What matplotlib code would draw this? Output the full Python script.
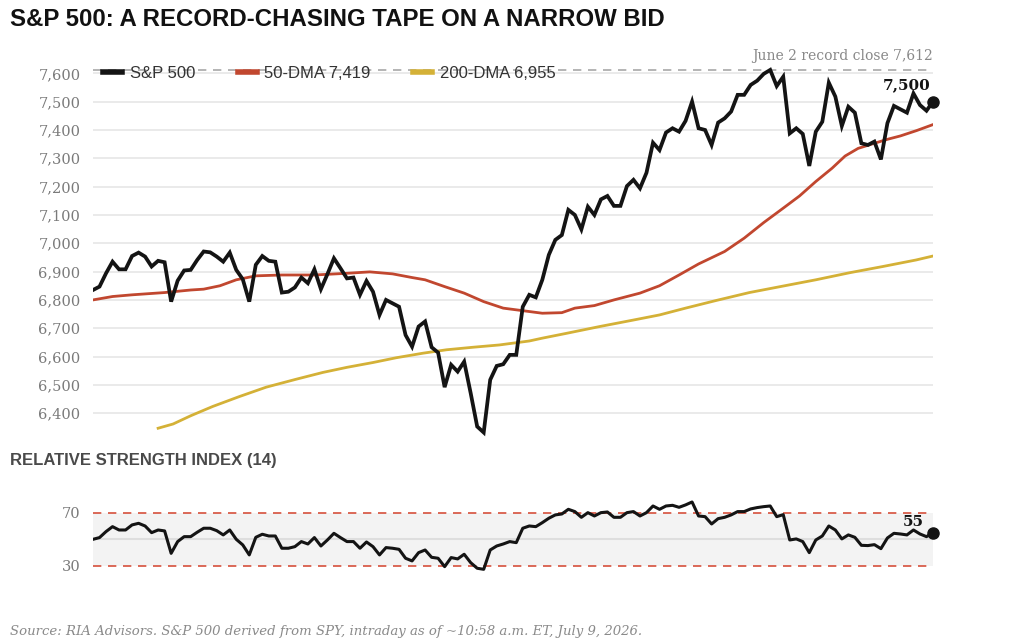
import matplotlib.pyplot as plt
import numpy as np

# S&P 500 closes (daily, oldest -> newest)
sp500 = [6835, 6847, 6894, 6935, 6908, 6908, 6955, 6967, 6953, 6918,
         6938, 6933, 6794, 6868, 6904, 6906, 6941, 6971, 6968, 6953,
         6935, 6967, 6906, 6873, 6794, 6924, 6955, 6938, 6935, 6826,
         6829, 6844, 6879, 6859, 6908, 6838, 6891, 6947, 6912, 6876,
         6879, 6818, 6867, 6829, 6747, 6800, 6788, 6776, 6676, 6635,
         6706, 6724, 6633, 6614, 6492, 6571, 6547, 6582, 6471, 6353,
         6332, 6518, 6567, 6573, 6606, 6606, 6776, 6818, 6809, 6871,
         6959, 7012, 7029, 7118, 7100, 7049, 7129, 7100, 7155, 7167,
         7132, 7132, 7202, 7224, 7194, 7249, 7355, 7329, 7391, 7406,
         7394, 7432, 7500, 7406, 7400, 7347, 7426, 7441, 7465, 7524,
         7524, 7559, 7574, 7598, 7612, 7555, 7588, 7388, 7406, 7386,
         7273, 7394, 7429, 7567, 7518, 7414, 7482, 7461, 7353, 7347,
         7359, 7296, 7424, 7485, 7473, 7461, 7529, 7488, 7468, 7500]

# moving averages, sampled along the curve (day index, value)
ma50_day = [0, 3, 6, 11, 15, 17, 19.5, 22, 25, 29, 34, 39, 42.5, 46, 49, 51, 54, 57, 60, 63,
            67, 69, 72, 74, 77, 80, 84, 87, 90, 93, 97, 100, 103, 106, 108.5, 111, 113.5,
            115.5, 117.5, 120, 122, 124, 126.5, 129]
ma50_val = [6800, 6812, 6818, 6826, 6835, 6838, 6850, 6871, 6885, 6888, 6888, 6894, 6899, 6892,
            6879, 6871, 6847, 6824, 6794, 6771, 6759, 6753, 6755, 6771, 6780, 6800, 6824, 6850,
            6888, 6927, 6971, 7018, 7073, 7124, 7167, 7218, 7265, 7308, 7335, 7353, 7367, 7379,
            7398, 7419]

ma200_day = [10, 12.3, 15, 18.4, 22.5, 26.6, 31.2, 35.3, 39, 43, 46.6, 50.7, 54.3, 58.4, 62.4,
             67, 69, 72.7, 77.8, 83, 87, 91, 95.7, 100.8, 106, 111, 116.2, 121.3, 126.4, 129]
ma200_val = [6347, 6362, 6391, 6424, 6459, 6492, 6520, 6544, 6562, 6579, 6596, 6612, 6624, 6633,
             6641, 6655, 6665, 6682, 6706, 6729, 6747, 6771, 6798, 6826, 6849, 6871, 6896, 6918,
             6941, 6955]

rsi = [50, 51.3, 55.8, 59.5, 57, 57, 60.8, 62, 60, 55,
       57, 56.3, 39.5, 48.3, 52, 52, 55.3, 58.3, 58.3, 56.5,
       53.3, 57, 50, 45.8, 38.3, 51.5, 53.8, 52.5, 52.5, 43.3,
       43.3, 44.5, 48.3, 46.5, 51.3, 45, 49.5, 54.5, 51.3, 48.3,
       48.3, 43.3, 48, 44.5, 38.3, 43.8, 43.3, 42.5, 35.8, 33.8,
       40, 42, 36.5, 35.8, 29.5, 36.3, 35.3, 38.8, 32.5, 28.3,
       27.5, 42, 45, 46.5, 48.3, 47.5, 58.3, 60, 59.5, 62.5,
       65.8, 68.3, 69, 72.5, 70.8, 66.5, 70, 67.5, 70, 70.5,
       66.5, 66.5, 70, 70.8, 67.5, 70, 75, 72.5, 75, 75.5,
       74, 75.8, 78, 67.5, 67, 61.5, 65.5, 66.5, 68.3, 70.8,
       70.8, 72.8, 73.8, 74.5, 75, 67, 68.5, 49.5, 50.3, 48.3,
       40, 49.5, 52.5, 60, 57, 50.3, 53.3, 51.5, 45.5, 45.3,
       46, 43, 51, 54.5, 54, 53.3, 57, 54, 52, 55]

record_close = 7612
price_ticks = list(range(6400, 7700, 100))

BLACK = "#141414"
RED = "#c1472f"
GOLD = "#d4b137"
GRID = "#e8e8e8"
SERIF = "DejaVu Serif"
SANS = "Liberation Sans"

days = np.arange(len(sp500))

fig = plt.figure(figsize=(10.24, 6.39), dpi=100)
ax = fig.add_axes([93 / 1024, 0.309, 840 / 1024, 0.594])
ax2 = fig.add_axes([93 / 1024, 0.0934, 840 / 1024, 0.1252])

# ---- price panel
for t in price_ticks:
    ax.axhline(t, color=GRID, lw=1.3, zorder=0)
ax.axhline(record_close, color="#a8a8a8", lw=1.2, dashes=(5, 4), zorder=1)

ax.plot(ma200_day, ma200_val, color=GOLD, lw=2.0, zorder=2, label="200-DMA 6,955")
ax.plot(ma50_day, ma50_val, color=RED, lw=2.0, zorder=3, label="50-DMA 7,419")
ax.plot(days, sp500, color=BLACK, lw=2.7, zorder=4, label="S&P 500", solid_joinstyle="miter")
ax.plot(days[-1], sp500[-1], "o", color=BLACK, ms=8, zorder=5, clip_on=False)

ax.set_xlim(0, len(sp500) - 1)
ax.set_ylim(6300, 7640)
ax.set_yticks(price_ticks)
ax.set_yticklabels([f"{t:,}" for t in price_ticks], family=SERIF, fontsize=10.5, color="#7a7a7a")
ax.tick_params(axis="y", length=0, pad=9)
ax.set_xticks([])
for s in ax.spines.values():
    s.set_visible(False)
ax.patch.set_alpha(0)

ax.text(len(sp500) - 1, record_close + 25, "June 2 record close 7,612", family=SERIF,
        fontsize=10, color="#888888", ha="right", va="bottom")
ax.text(len(sp500) - 5, sp500[-1] + 35, "7,500", family=SERIF, fontsize=11,
        fontweight="bold", color=BLACK, ha="center", va="bottom")

h, l = ax.get_legend_handles_labels()
order = [2, 1, 0]
leg = ax.legend([h[i] for i in order], [l[i] for i in order], loc="center left",
                bbox_to_anchor=(0.012, 0.970), ncol=3, frameon=False, borderpad=0,
                borderaxespad=0, handlelength=1.15, handletextpad=0.45,
                columnspacing=2.55, prop={"family": SANS, "size": 12})
for line in leg.get_lines():
    line.set_linewidth(4)
for txt in leg.get_texts():
    txt.set_color("#333333")

# ---- RSI panel
ax2.axhspan(30, 70, color="#f3f3f3", lw=0, zorder=0)
ax2.axhline(50, color="#dedede", lw=1.5, zorder=1)
ax2.axhline(70, color="#d6503c", lw=1.2, dashes=(5, 4), zorder=1)
ax2.axhline(30, color="#d6503c", lw=1.2, dashes=(5, 4), zorder=1)
ax2.plot(days, rsi, color=BLACK, lw=2.2, zorder=3)
ax2.plot(days[-1], rsi[-1], "o", color=BLACK, ms=8, zorder=4, clip_on=False)
ax2.text(len(rsi) - 4, rsi[-1] + 3, "55", family=SERIF, fontsize=11, fontweight="bold",
         color=BLACK, ha="center", va="bottom")
ax2.set_xlim(0, len(rsi) - 1)
ax2.set_ylim(20, 80)
ax2.set_yticks([30, 70])
ax2.set_yticklabels(["30", "70"], family=SERIF, fontsize=10.5, color="#7a7a7a")
ax2.tick_params(axis="y", length=0, pad=9)
ax2.set_xticks([])
for s in ax2.spines.values():
    s.set_visible(False)

# ---- titles and source
fig.text(10 / 1024, 1 - 20 / 639, "S&P 500: A RECORD-CHASING TAPE ON A NARROW BID",
         family=SANS, fontsize=17.3, fontweight="bold", color="#111111", va="center")
fig.text(10 / 1024, 1 - 460 / 639, "RELATIVE STRENGTH INDEX (14)", family=SANS,
         fontsize=12, fontweight="bold", color="#4a4a4a", va="center")
fig.text(10 / 1024, 1 - 631 / 639,
         "Source: RIA Advisors. S&P 500 derived from SPY, intraday as of ~10:58 a.m. ET, July 9, 2026.",
         family=SERIF, style="italic", fontsize=9.5, color="#8a8a8a", va="center")

fig.savefig("out.png", dpi=100)
